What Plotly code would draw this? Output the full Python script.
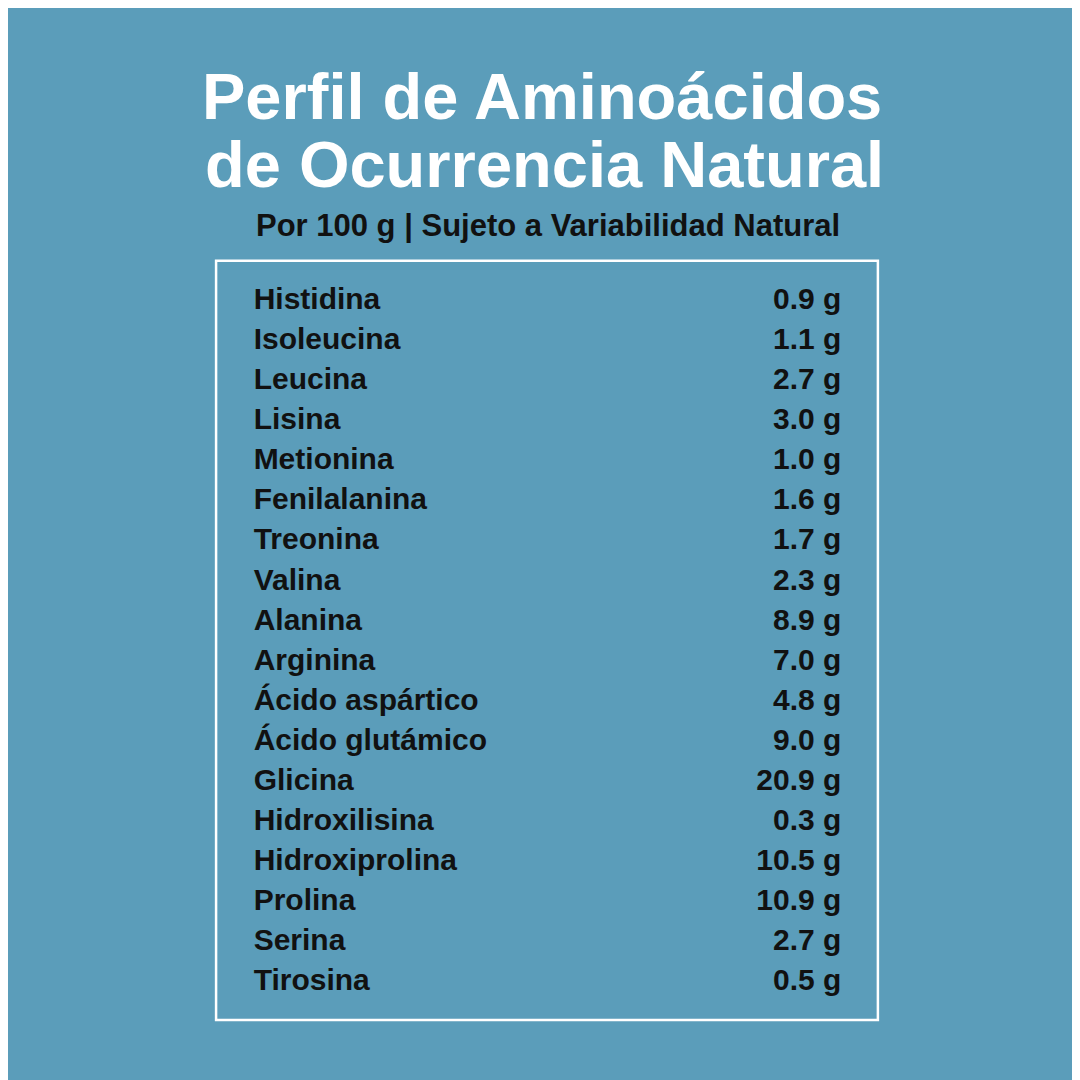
import plotly.graph_objects as go

aminoacidos = [
    "Histidina", "Isoleucina", "Leucina", "Lisina", "Metionina", "Fenilalanina",
    "Treonina", "Valina", "Alanina", "Arginina", "Ácido aspártico", "Ácido glutámico",
    "Glicina", "Hidroxilisina", "Hidroxiprolina", "Prolina", "Serina", "Tirosina",
]
gramos = [0.9, 1.1, 2.7, 3.0, 1.0, 1.6, 1.7, 2.3, 8.9, 7.0, 4.8, 9.0,
          20.9, 0.3, 10.5, 10.9, 2.7, 0.5]

bg = "#5b9dba"
ink = "#111111"
font = "Liberation Sans"
rows = list(range(len(aminoacidos)))

# the page shows the figure inside an 8px body margin
def px(s):
    return (s - 8) / 1064


def py(s):
    return 1 - (s - 8) / 1064


fig = go.Figure()
fig.add_trace(go.Scatter(
    x=[250] * len(rows), y=rows, mode="text", text=aminoacidos,
    textposition="middle right", hoverinfo="skip",
    textfont=dict(family=font, size=30, color=ink, weight="bold"),
))
fig.add_trace(go.Scatter(
    x=[829] * len(rows), y=rows, mode="text",
    text=[f"{v:.1f} g" for v in gramos],
    textposition="middle left", hoverinfo="skip",
    textfont=dict(family=font, size=30, color=ink, weight="bold"),
))

fig.add_shape(type="rect", xref="paper", yref="paper",
              x0=px(213), x1=px(865), y0=py(1005), y1=py(257),
              line=dict(color="white", width=2.5))

fig.add_annotation(text="<b>Perfil de Aminoácidos</b>",
                   xref="paper", yref="paper", x=px(534), y=py(95),
                   showarrow=False, yanchor="middle",
                   font=dict(family=font, size=65, color="white"))
fig.add_annotation(text="<b>de Ocurrencia Natural</b>",
                   xref="paper", yref="paper", x=px(537), y=py(162),
                   showarrow=False, yanchor="middle",
                   font=dict(family=font, size=65, color="white"))
fig.add_annotation(text="<b>Por 100 g | Sujeto a Variabilidad Natural</b>",
                   xref="paper", yref="paper", x=px(540), y=py(222),
                   showarrow=False, yanchor="middle",
                   font=dict(family=font, size=31, color=ink))

fig.update_layout(
    width=1080, height=1080, showlegend=False,
    paper_bgcolor=bg, plot_bgcolor=bg,
    margin=dict(l=0, r=0, t=0, b=0),
    xaxis=dict(range=[8, 1072], visible=False, fixedrange=True),
    yaxis=dict(range=[(1072 - 297) / 39.5, (8 - 297) / 39.5], visible=False, fixedrange=True),
)

fig.write_html("out.html")
